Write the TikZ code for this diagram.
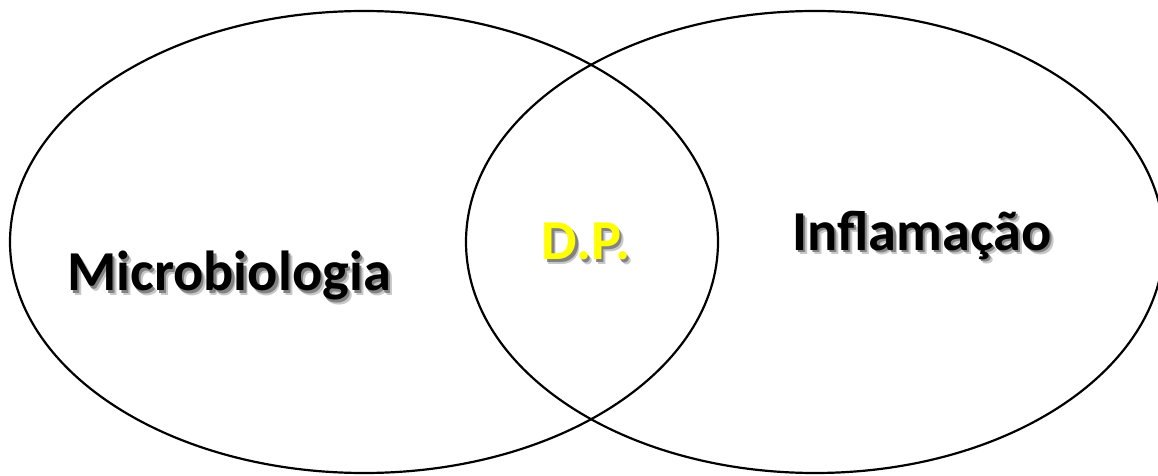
\documentclass[tikz,border=0pt]{standalone}
\usepackage{fontspec}
\setmainfont{Carlito}
\usepackage{xcolor}
\definecolor{dpyellow}{RGB}{255, 255, 0}
\definecolor{shadowfar}{RGB}{200, 200, 200}
\definecolor{shadownear}{RGB}{130, 130, 130}
\usepackage{tikz}
\usetikzlibrary{shapes.geometric,positioning}
\newcommand{\shadowtxt}[2]{%
  \makebox[0pt][l]{\hspace{2pt}\raisebox{-2pt}{\textcolor{shadowfar}{#2}}}%
  \makebox[0pt][l]{\hspace{1.2pt}\raisebox{-1.2pt}{\textcolor{shadownear}{#2}}}%
  \textcolor{#1}{#2}}

\begin{document}
\begin{tikzpicture}[
  x=0.5pt, y=-0.5pt,
  setline/.style={draw=black, line width=1.1pt, ellipse, inner sep=0pt},
  setlabel/.style={font=\fontsize{28.2}{31}\selectfont\bfseries, inner sep=0pt, anchor=base}
]
\useasboundingbox (0,0) rectangle (1158,476);

% Sets
\node[setline, minimum width=354pt, minimum height=231pt] (micro) at (364, 242) {};
\node[setline, minimum width=349pt, minimum height=231pt] (infl) at (815, 242) {};

% Labels
\node[setlabel] (microtxt) at (229, 291) {\shadowtxt{black}{Microbiologia}};
\node[setlabel] (dptxt) at (586, 260) {\shadowtxt{dpyellow}{D.P.}};
\node[setlabel] (infltxt) at (922, 250) {\shadowtxt{black}{Inflamação}};

\end{tikzpicture}
\end{document}
